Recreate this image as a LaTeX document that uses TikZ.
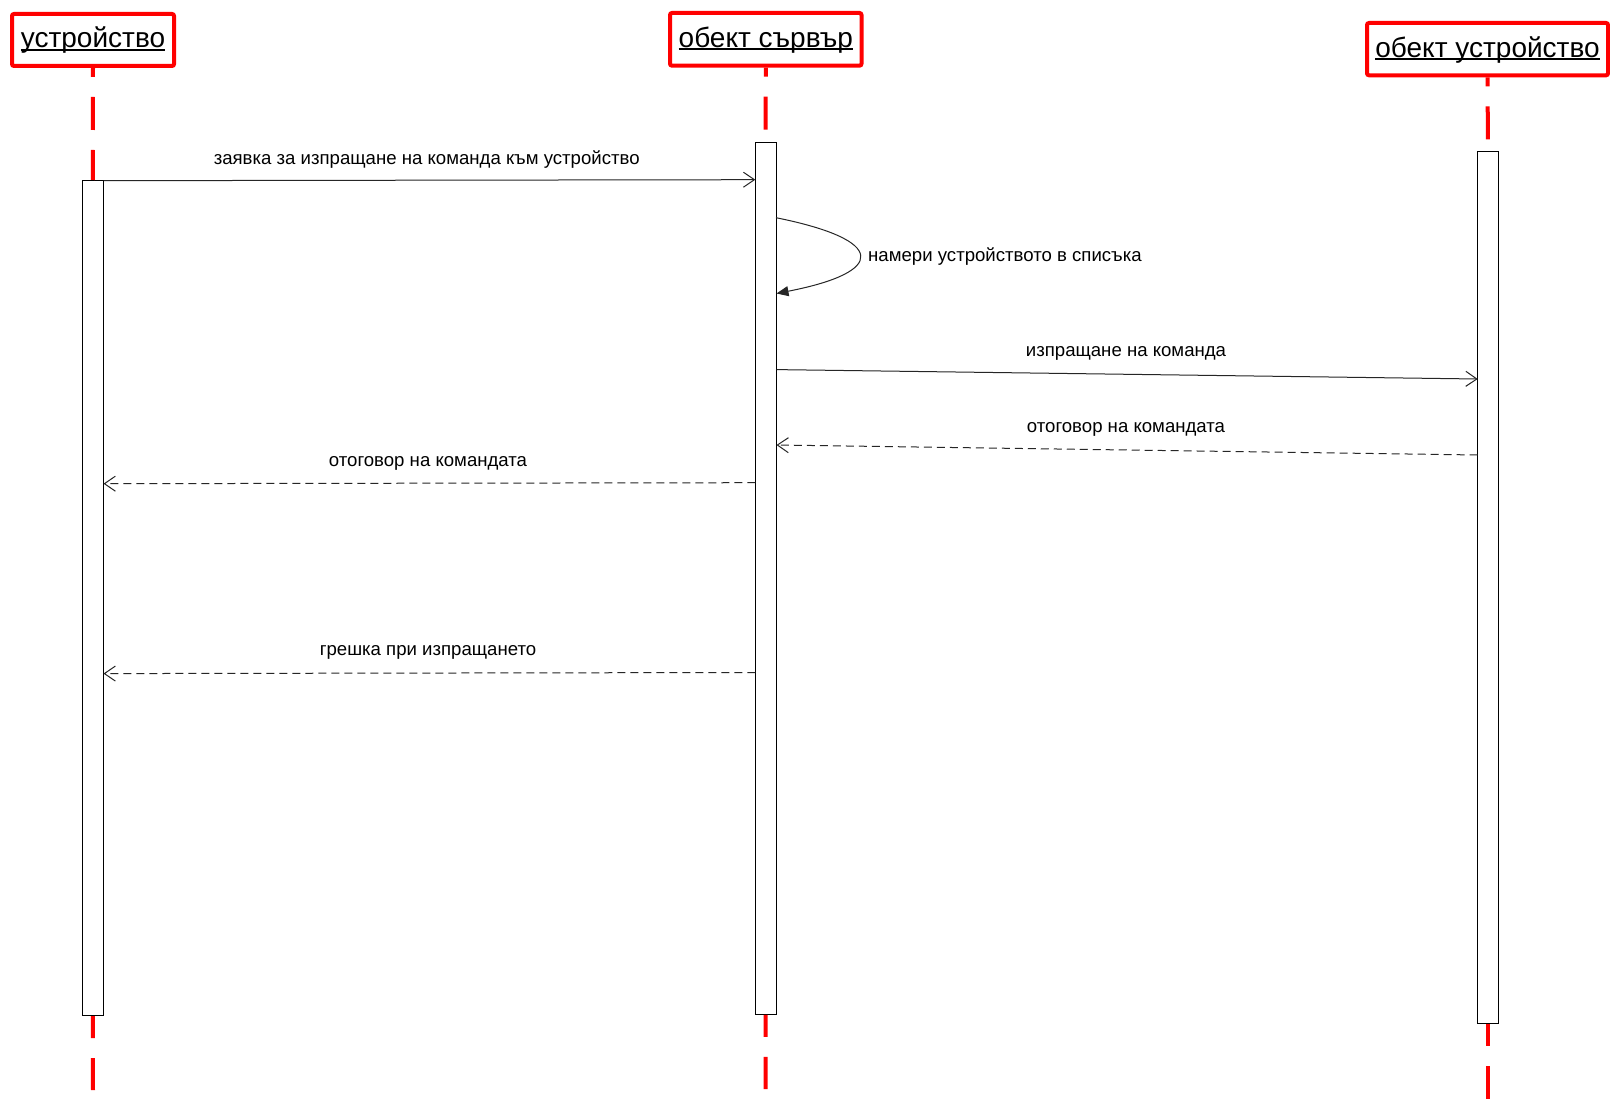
\documentclass[tikz,border=0pt]{standalone}
\usepackage{fontspec}
\setmainfont{Liberation Sans}
\usetikzlibrary{arrows.meta}
\newcommand\hul[1]{\setbox0\hbox{#1}\rlap{\rule[-2.8pt]{\wd0}{1.7pt}}\box0}
\begin{document}
\begin{tikzpicture}[x=1pt,y=-1pt,
 hdr/.style={draw=red, line width=4pt, rounded corners=2pt, inner sep=0pt, fill=white,
   font=\fontsize{28}{32}\selectfont, text height=21pt, text depth=5pt},
 act/.style={draw=black, line width=1.1pt, fill=white, inner sep=0pt, minimum width=21pt, anchor=north},
 lifetop/.style={red, line width=4pt, dash pattern=on 9pt off 20pt on 33pt off 20pt on 33pt off 20pt},
 lifebot/.style={red, line width=4pt, dash pattern=on 22pt off 20pt on 34pt off 20pt},
 msg/.style={line width=1pt, black!85, -{Straight Barb[length=11pt,width=15pt]}},
 reply/.style={msg, dash pattern=on 8pt off 5pt},
 selfmsg/.style={line width=1pt, black!85, -{Triangle[length=12pt,width=10pt]}},
 lbl/.style={font=\fontsize{18.6}{22}\selectfont, anchor=base, inner sep=0pt}]
\useasboundingbox (0,0) rectangle (1610,1099);
\fill[white] (0,0) rectangle (1610,1099);

% headers
\node[hdr, minimum width=162pt, minimum height=52pt] (h1) at (93,40) {\hul{устройство}};
\node[hdr, minimum width=191.5pt, minimum height=52.7pt] (h2) at (765.75,39.35) {\hul{обект сървър}};
\node[hdr, minimum width=241pt, minimum height=52.3pt] (h3) at (1487.5,49.15) {\hul{обект устройство}};

% activation boxes
\node[act, minimum height=835pt] (a1) at (92.8,180) {};
\node[act, minimum height=872pt] (a2) at (765.7,141.7) {};
\node[act, minimum height=872pt] (a3) at (1488,151) {};

% lifeline ends
\coordinate (e1) at (93,1090);
\coordinate (e2) at (765.5,1089);
\coordinate (e3) at (1488,1099);

% lifelines
\draw[lifetop] (h1.south) -- (a1.north);
\draw[lifetop] (h2.south) -- (a2.north);
\draw[lifetop] (h3.south) -- (a3.north);
\draw[lifebot] (a1.south) -- (e1);
\draw[lifebot] (a2.south) -- (e2);
\draw[lifebot] (a3.south) -- (e3);

% message end points
\coordinate (m1s) at (103.5,180.7);
\coordinate (m1e) at (755.3,179.7);
\coordinate (s1) at (776,217.7);
\coordinate (s2) at (776.5,293.5);
\coordinate (m3s) at (776.5,369.6);
\coordinate (m3e) at (1477.7,379);
\coordinate (m4s) at (1477.7,455);
\coordinate (m4e) at (776.5,445);
\coordinate (m5s) at (755.3,482.7);
\coordinate (m5e) at (103.5,483.7);
\coordinate (m6s) at (755.3,672.5);
\coordinate (m6e) at (103.5,673.6);

% messages
\draw[msg] (m1s) -- (m1e);
\node[lbl] (t1) at (426.7,165) {заявка за изпращане на команда към устройство};

\draw[selfmsg] (s1) .. controls (887,240) and (887,272) .. (s2);
\node[lbl, anchor=base west] (t2) at (868,262) {намери устройството в списъка};

\draw[msg] (m3s) -- (m3e);
\node[lbl] (t3) at (1126,357) {изпращане на команда};

\draw[reply] (m4s) -- (m4e);
\node[lbl] (t4) at (1126,432) {отоговор на командата};

\draw[reply] (m5s) -- (m5e);
\node[lbl] (t5) at (428,466) {отоговор на командата};

\draw[reply] (m6s) -- (m6e);
\node[lbl] (t6) at (428,655) {грешка при изпращането};
\end{tikzpicture}
\end{document}
